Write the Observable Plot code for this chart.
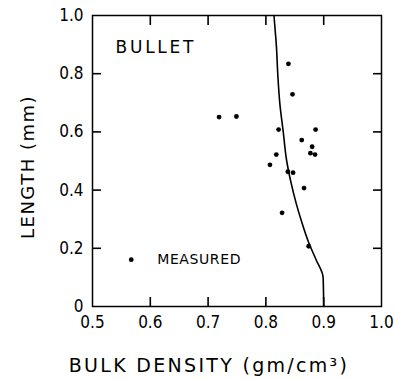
<!DOCTYPE html>
<html><head><meta charset="utf-8">
<script src="https://cdn.jsdelivr.net/npm/d3@7"></script>
<script src="https://cdn.jsdelivr.net/npm/@observablehq/plot@0.6"></script>
<style>body{margin:0;background:#fff}</style>
</head><body><div id="chart"></div>
<script>
// measured points
const density = [0.839, 0.846, 0.719, 0.749, 0.822, 0.886, 0.862, 0.880, 0.877, 0.885, 0.818, 0.807, 0.838, 0.847, 0.866, 0.828, 0.874];
const lengthMm = [0.834, 0.729, 0.651, 0.653, 0.608, 0.608, 0.572, 0.549, 0.527, 0.522, 0.522, 0.487, 0.463, 0.460, 0.407, 0.322, 0.207];
// calculated curve (ordered by increasing length)
const curveDensity = [0.900, 0.899, 0.887, 0.874, 0.862, 0.853, 0.843, 0.836, 0.830, 0.824, 0.8205, 0.818, 0.816, 0.814];
const curveLength  = [0.00, 0.10, 0.16, 0.22, 0.29, 0.35, 0.43, 0.50, 0.60, 0.70, 0.80, 0.90, 0.95, 1.00];
// ticks
const xTicks = [0.5, 0.6, 0.7, 0.8, 0.9, 1.0];
const xTickLabels = ["0.5", "0.6", "0.7", "0.8", "0.9", "1.0"];
const yTicks = [0, 0.2, 0.4, 0.6, 0.8, 1.0];
const yTickLabels = ["0", "0.2", "0.4", "0.6", "0.8", "1.0"];
// texts
const xTitle = "BULK DENSITY (gm/cm³)";
const yTitle = "LENGTH (mm)";
const panelLabel = "BULLET";
const legendLabel = "MEASURED";
const panelLabelAt = [0.540, 0.89];
const legendAt = [0.567, 0.161];

const W = 394, H = 379, ML = 92, MR = 13, MT = 15, MB = 73;
const TS = 9;
const inner = (arr) => arr.slice(1, -1);
const chart = Plot.plot({
  width: W, height: H,
  marginLeft: ML, marginRight: MR, marginTop: MT, marginBottom: MB,
  x: {domain: [0.5, 1.0]},
  y: {domain: [0, 1]},
  style: {fontFamily: "'DejaVu Sans Condensed', 'DejaVu Sans', sans-serif", color: "#000", background: "#fff"},
  marks: [
    Plot.frame({stroke: "#000", strokeWidth: 1.5}),
    Plot.axisX(xTicks, {anchor: "bottom", tickSize: 0, tickPadding: 9, fontSize: 17, label: null,
      tickFormat: d => xTickLabels[xTicks.indexOf(d)]}),
    Plot.axisY(yTicks, {anchor: "left", tickSize: 0, tickPadding: 9, fontSize: 17, label: null,
      tickFormat: d => yTickLabels[yTicks.indexOf(d)]}),
    // inward tick marks on all four sides
    Plot.axisX(inner(xTicks), {anchor: "bottom", tickSize: -TS, tickFormat: () => "", label: null, stroke: "#000", strokeWidth: 1.6}),
    Plot.axisX(inner(xTicks), {anchor: "top", tickSize: -TS, tickFormat: () => "", label: null, stroke: "#000", strokeWidth: 1.6}),
    Plot.axisY(inner(yTicks), {anchor: "left", tickSize: -TS, tickFormat: () => "", label: null, stroke: "#000", strokeWidth: 1.6}),
    Plot.axisY(inner(yTicks), {anchor: "right", tickSize: -TS, tickFormat: () => "", label: null, stroke: "#000", strokeWidth: 1.6}),
    Plot.line(curveDensity, {x: d => d, y: (d, i) => curveLength[i], curve: "monotone-y", stroke: "#000", strokeWidth: 1.6}),
    Plot.dot(density, {x: d => d, y: (d, i) => lengthMm[i], r: 2.4, fill: "#000", stroke: "none"}),
    Plot.dot([legendAt], {x: d => d[0], y: d => d[1], r: 2.4, fill: "#000", stroke: "none"}),
    Plot.text([legendLabel], {x: () => legendAt[0], y: () => legendAt[1], dx: 26, textAnchor: "start", fontSize: 14, fontFamily: "'DejaVu Sans'", text: d => d}),
    Plot.text([panelLabel], {x: () => panelLabelAt[0], y: () => panelLabelAt[1], textAnchor: "start", fontSize: 17, fontFamily: "'DejaVu Sans'", text: d => d}),
    Plot.text([yTitle], {frameAnchor: "left", textAnchor: "middle", lineAnchor: "middle", rotate: -90, dx: -64, dy: 6, fontSize: 18, fontFamily: "'DejaVu Sans'", text: d => d}),
    Plot.text([xTitle], {frameAnchor: "bottom", textAnchor: "middle", lineAnchor: "middle", dx: -28, dy: 59, fontSize: 19, fontFamily: "'DejaVu Sans'", text: d => d})
  ]
});
document.getElementById("chart").append(chart);
// letter spacing for lettering-like titles
chart.querySelectorAll("text").forEach(t => {
  const s = t.textContent;
  if (s === panelLabel) t.setAttribute("letter-spacing", "2.7");
  else if (s === legendLabel) t.setAttribute("letter-spacing", "0.6");
  else if (s === yTitle) t.setAttribute("letter-spacing", "1.5");
  else if (s === xTitle) t.setAttribute("letter-spacing", "2.3");
});
</script>
</body></html>
